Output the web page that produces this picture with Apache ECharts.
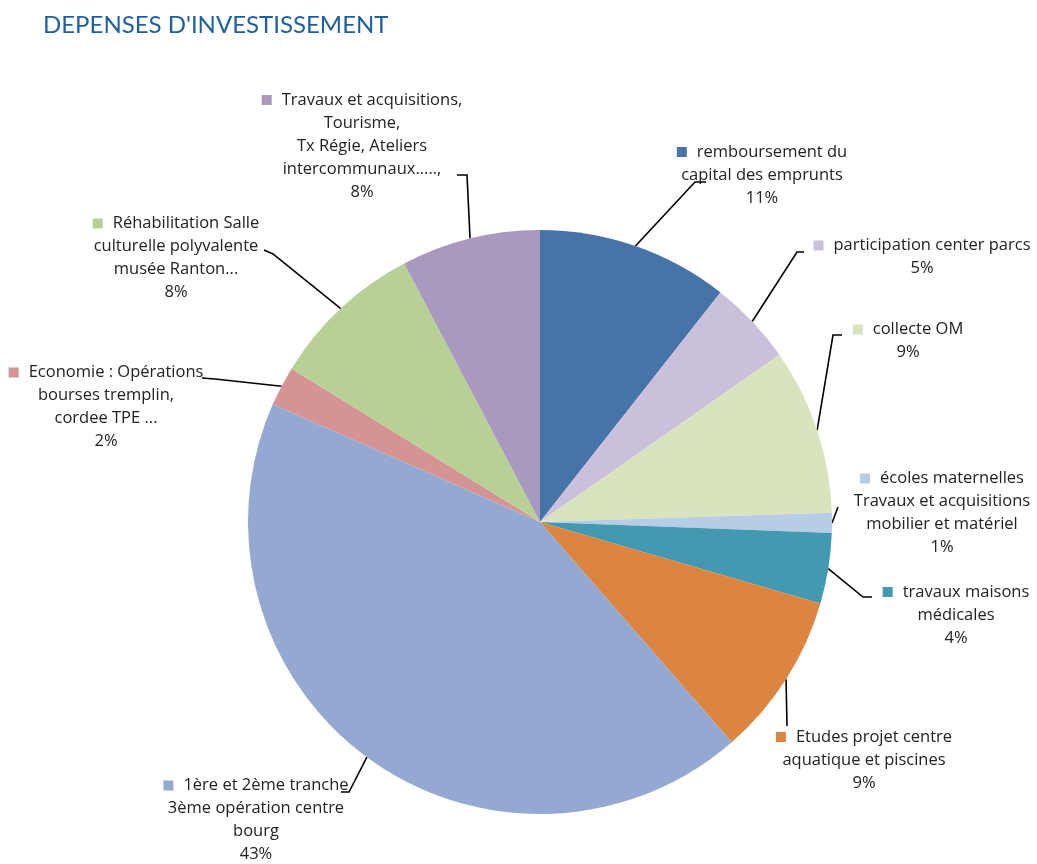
<!DOCTYPE html>
<html>
<head>
<meta charset="utf-8">
<script src="https://cdn.jsdelivr.net/npm/echarts@6/dist/echarts.min.js"></script>
<style>html,body{margin:0;padding:0;background:#fff;}#c{width:1037px;height:864px;}</style>
</head>
<body>
<div id="c"></div>
<script>
var categories = [
  "remboursement du\ncapital des emprunts",
  "participation center parcs",
  "collecte OM",
  "écoles maternelles\nTravaux et acquisitions\nmobilier et matériel",
  "travaux maisons\nmédicales",
  "Etudes projet centre\naquatique et piscines",
  "1ère et 2ème tranche\n3ème opération centre\nbourg",
  "Economie : Opérations\nbourses tremplin,\ncordee TPE ...",
  "Réhabilitation Salle\nculturelle polyvalente\nmusée Ranton...",
  "Travaux et acquisitions,\nTourisme,\nTx Régie, Ateliers\nintercommunaux.....,"
];
var values = [10.6, 4.7, 9.2, 1.1, 3.9, 9.1, 43.0, 2.2, 8.5, 7.7];
var colors = ["#4673A8", "#CBC0DC", "#D9E4BE", "#B7CDE6", "#4299B0", "#DC8540", "#94A9D1", "#D39493", "#B8CF96", "#A899BF"];

// label block centres and leader-line elbow/end points (layout only)
var labelPos = [
  [762, 175], [922, 257], [908, 341], [942, 513], [956, 615],
  [864, 760], [256, 820], [106, 407], [176, 258], [362, 146]
];
var linePts = [
  [[695, 182], [706, 182]],
  [[797, 252], [804, 252]],
  [[833, 335], [842, 335]],
  [[838, 507], [838, 507]],
  [[863, 597], [872, 597]],
  [[787, 726], [787, 726]],
  [[349, 792], [341, 792]],
  [[215, 379], [202, 378]],
  [[273, 254], [264, 250]],
  [[467, 175], [457, 175]]
];

var FONT = 'Open Sans';
var FS = 16.5;
var rich = {};
colors.forEach(function (c, i) {
  rich['s' + i] = { width: 10, height: 10, backgroundColor: c };
});
rich.g = { width: 10, height: 10 };
rich.t = { fontFamily: FONT, fontSize: FS, color: '#222', lineHeight: 23 };

var data = categories.map(function (n, i) {
  return { name: n, value: values[i], itemStyle: { color: colors[i] } };
});

var chart = echarts.init(document.getElementById('c'), null, { renderer: 'canvas' });
chart.setOption({
  animation: false,
  backgroundColor: '#fff',
  title: {
    text: "DEPENSES D'INVESTISSEMENT",
    left: 38, top: 8,
    textStyle: { fontFamily: 'Lato', fontSize: 24, fontWeight: 'normal', color: '#1F5FA0' }
  },
  series: [{
    type: 'pie',
    center: [540, 522],
    radius: 292,
    startAngle: 90,
    clockwise: true,
    percentPrecision: 0,
    data: data,
    itemStyle: { borderWidth: 0 },
    emphasis: { disabled: true },
    label: {
      show: true,
      position: 'outside',
      align: 'center',
      overflow: 'none',
      fontFamily: FONT, fontSize: FS, color: '#222', lineHeight: 23,
      rich: rich,
      formatter: function (p) {
        var lines = p.name.split('\n');
        var out = '{s' + p.dataIndex + '|}{g|}{t|' + lines[0] + '}';
        for (var k = 1; k < lines.length; k++) out += '\n{t|' + lines[k] + '}';
        out += '\n{t|' + p.percent + '%}';
        return out;
      }
    },
    labelLine: { show: true, length: 10, length2: 10, lineStyle: { color: '#000', width: 1.6 } },
    labelLayout: function (params) {
      var i = params.dataIndex;
      var start = params.labelLinePoints ? params.labelLinePoints[0] : linePts[i][0];
      return {
        x: labelPos[i][0],
        y: labelPos[i][1],
        align: 'center',
        verticalAlign: 'middle',
        labelLinePoints: [start, linePts[i][0], linePts[i][1]]
      };
    }
  }]
});
</script>
</body>
</html>
